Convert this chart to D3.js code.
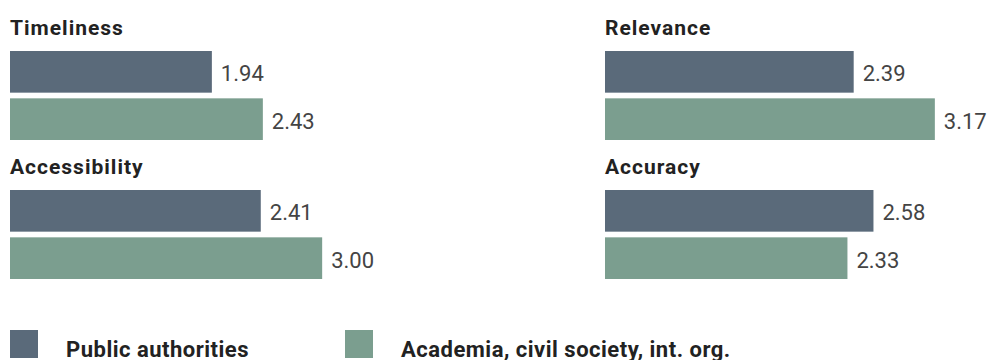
<!DOCTYPE html>
<html>
<head>
<meta charset="utf-8">
<script src="https://cdn.jsdelivr.net/npm/d3@7"></script>
<style>
  body { margin: 0; background: #fff; }
  svg text { font-family: Roboto, "Noto Sans", sans-serif; }
</style>
</head>
<body>
<div id="chart"></div>
<script>
// data
var categories = ["Timeliness", "Relevance", "Accessibility", "Accuracy"];
var series = ["Public authorities", "Academia, civil society, int. org."];
var publicValues = [1.94, 2.39, 2.41, 2.58];
var academiaValues = [2.43, 3.17, 3.00, 2.33];
var colors = ["#5a6a7a", "#7b9e8f"];

var W = 990, H = 360;
var svg = d3.select("#chart").append("svg")
  .attr("width", W)
  .attr("height", H);

// panel layout: 2 columns x 2 rows
var colX = d3.scaleOrdinal().domain([0, 1]).range([10, 605]);
var rowY = d3.scaleOrdinal().domain([0, 1]).range([0, 139]);

var x = d3.scaleLinear().domain([0, 3.7]).range([0, 385]);
var yBand = d3.scaleBand().domain(series).range([51, 140]).paddingInner(0.12);
var color = d3.scaleOrdinal().domain(series).range(colors);

var panels = svg.selectAll("g.panel")
  .data(categories)
  .enter().append("g")
  .attr("class", "panel")
  .attr("transform", function(d, i){
    return "translate(" + colX(i % 2) + "," + rowY(Math.floor(i / 2)) + ")";
  });

panels.append("text")
  .attr("x", 0)
  .attr("y", 35)
  .style("font-size", "21px")
  .style("font-weight", "bold")
  .style("letter-spacing", "1px")
  .style("fill", "#222")
  .text(function(d){ return d; });

var bars = panels.selectAll("g.bar")
  .data(function(d, i){
    return [
      {s: series[0], v: publicValues[i]},
      {s: series[1], v: academiaValues[i]}
    ];
  })
  .enter().append("g").attr("class", "bar");

bars.append("rect")
  .attr("x", x(0))
  .attr("y", function(d){ return yBand(d.s); })
  .attr("width", function(d){ return x(d.v) - x(0); })
  .attr("height", yBand.bandwidth())
  .style("fill", function(d){ return color(d.s); });

bars.append("text")
  .attr("x", function(d){ return x(d.v) + 9; })
  .attr("y", function(d){ return yBand(d.s) + yBand.bandwidth() / 2 + 9.5; })
  .style("font-size", "22px")
  .style("fill", "#444")
  .text(function(d){ return d3.format(".2f")(d.v); });

// legend
var legendX = d3.scaleOrdinal().domain(series).range([10, 345]);
var legend = svg.selectAll("g.legend")
  .data(series)
  .enter().append("g")
  .attr("class", "legend")
  .attr("transform", function(d){ return "translate(" + legendX(d) + ",330)"; });

legend.append("rect")
  .attr("width", 28)
  .attr("height", 28)
  .style("fill", function(d){ return color(d); });

legend.append("text")
  .attr("x", 56)
  .attr("y", 27)
  .style("font-size", "22px")
  .style("font-weight", "bold")
  .style("letter-spacing", "0.5px")
  .style("fill", "#222")
  .text(function(d){ return d; });
</script>
</body>
</html>
